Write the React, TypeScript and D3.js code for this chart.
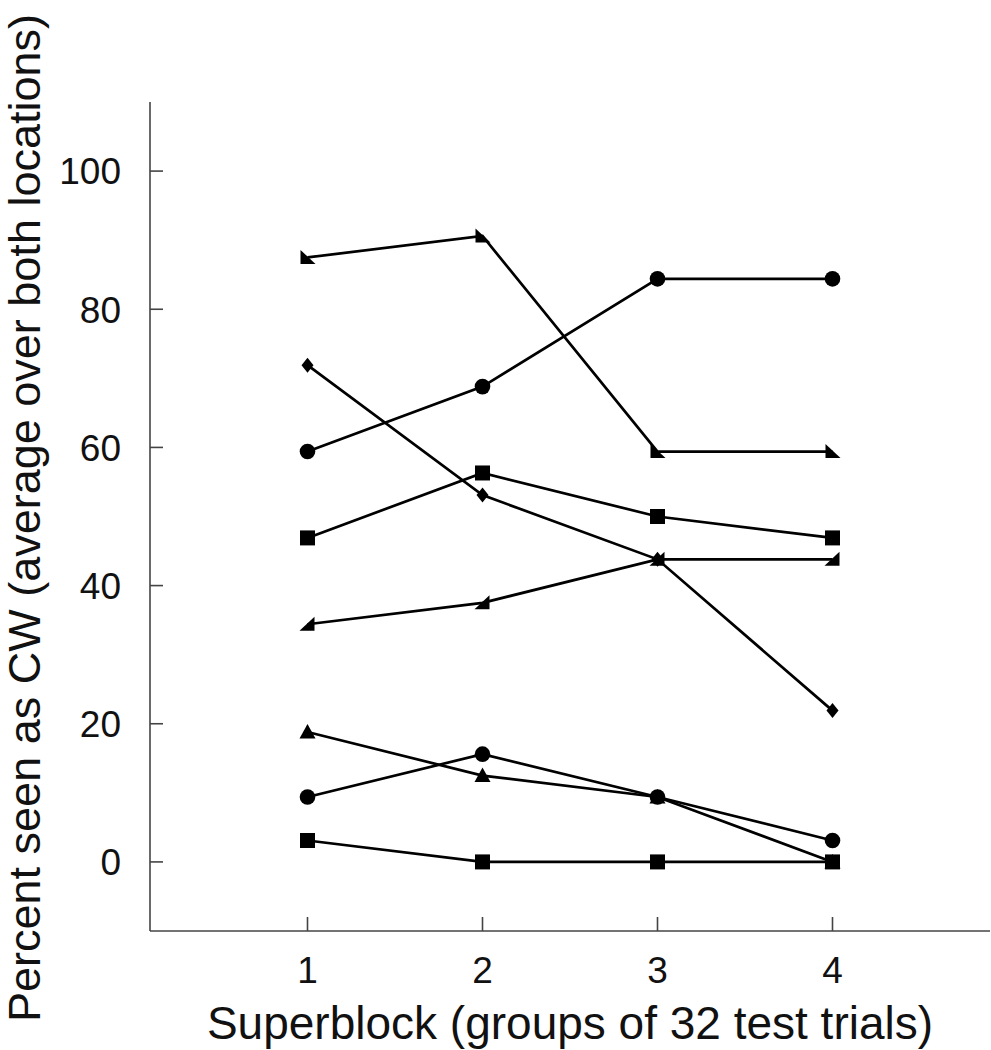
import React from "react";
import * as d3 from "d3";

const superblocks = [1, 2, 3, 4];
const yTicks = [0, 20, 40, 60, 80, 100];

const seriesTriLeft = [87.5, 90.6, 59.4, 59.4];
const seriesCircleHigh = [59.4, 68.8, 84.4, 84.4];
const seriesDiamond = [71.9, 53.1, 43.8, 21.9];
const seriesSquareHigh = [46.9, 56.3, 50.0, 46.9];
const seriesTriRight = [34.4, 37.5, 43.8, 43.8];
const seriesTriUp = [18.8, 12.5, 9.4, 0];
const seriesCircleLow = [9.4, 15.6, 9.4, 3.1];
const seriesSquareLow = [3.1, 0, 0, 0];

const xTitle = "Superblock (groups of 32 test trials)";
const yTitle = "Percent seen as CW (average over both locations)";

type Shape = "triLeft" | "triRight" | "triUp" | "circle" | "square" | "diamond";

const series: { values: number[]; shape: Shape }[] = [
  { values: seriesTriLeft, shape: "triLeft" },
  { values: seriesCircleHigh, shape: "circle" },
  { values: seriesDiamond, shape: "diamond" },
  { values: seriesSquareHigh, shape: "square" },
  { values: seriesTriRight, shape: "triRight" },
  { values: seriesTriUp, shape: "triUp" },
  { values: seriesCircleLow, shape: "circle" },
  { values: seriesSquareLow, shape: "square" },
];

const W = 991;
const H = 1050;
const FONT = "'Liberation Sans', Arial, Helvetica, sans-serif";
const AXIS_COLOR = "#444";

function Marker({ shape, cx, cy }: { shape: Shape; cx: number; cy: number }) {
  const s = 7.5;
  switch (shape) {
    case "circle":
      return <circle cx={cx} cy={cy} r={7.8} fill="#000" />;
    case "square":
      return <rect x={cx - s} y={cy - s} width={2 * s} height={2 * s} fill="#000" />;
    case "diamond":
      return (
        <path
          d={`M${cx},${cy - 7.5} L${cx + 6},${cy} L${cx},${cy + 7.5} L${cx - 6},${cy} Z`}
          fill="#000"
        />
      );
    case "triUp":
      return (
        <path
          d={`M${cx},${cy - 8} L${cx + 8},${cy + 6.5} L${cx - 8},${cy + 6.5} Z`}
          fill="#000"
        />
      );
    case "triLeft":
      return (
        <path
          d={`M${cx - 7},${cy - 7.5} L${cx - 7},${cy + 6.5} L${cx + 8},${cy + 6.5} Z`}
          fill="#000"
        />
      );
    case "triRight":
      return (
        <path
          d={`M${cx + 7},${cy - 7.5} L${cx + 7},${cy + 6.5} L${cx - 8},${cy + 6.5} Z`}
          fill="#000"
        />
      );
  }
}

export default function App() {
  const x = d3.scaleLinear().domain([0.1, 4.9]).range([150, 990]);
  const y = d3.scaleLinear().domain([-10, 110]).range([931, 102]);
  const line = d3
    .line<number>()
    .x((_, i) => x(superblocks[i]))
    .y((d) => y(d));

  return (
    <svg
      width={W}
      height={H}
      style={{ position: "absolute", left: 0, top: 0, background: "#fff" }}
      fontFamily={FONT}
    >
      {/* axes */}
      <line x1={x(0.1)} x2={x(0.1)} y1={y(110)} y2={y(-10)} stroke={AXIS_COLOR} strokeWidth={1.6} />
      <line x1={x(0.1)} x2={x(4.9)} y1={y(-10)} y2={y(-10)} stroke={AXIS_COLOR} strokeWidth={1.6} />
      {yTicks.map((t) => (
        <g key={"y" + t}>
          <line x1={x(0.1)} x2={x(0.1) + 13} y1={y(t)} y2={y(t)} stroke={AXIS_COLOR} strokeWidth={1.6} />
          <text
            x={x(0.1) - 29}
            y={y(t)}
            dy="0.36em"
            textAnchor="end"
            fontSize={37}
            fill="#111"
          >
            {t}
          </text>
        </g>
      ))}
      {superblocks.map((t) => (
        <g key={"x" + t}>
          <line x1={x(t)} x2={x(t)} y1={y(-10)} y2={y(-10) - 14} stroke={AXIS_COLOR} strokeWidth={1.6} />
          <text x={x(t)} y={983} textAnchor="middle" fontSize={37} fill="#111">
            {t}
          </text>
        </g>
      ))}
      <text x={x(2.5)} y={1039} textAnchor="middle" fontSize={46} fill="#111">
        {xTitle}
      </text>
      <text
        transform={`translate(40, ${518}) rotate(-90)`}
        textAnchor="middle"
        fontSize={45}
        fill="#111"
      >
        {yTitle}
      </text>

      {/* series */}
      {series.map((s, si) => (
        <g key={"s" + si}>
          <path d={line(s.values) || ""} fill="none" stroke="#000" strokeWidth={2.7} />
          {s.values.map((v, i) => (
            <Marker key={i} shape={s.shape} cx={x(superblocks[i])} cy={y(v)} />
          ))}
        </g>
      ))}
    </svg>
  );
}
